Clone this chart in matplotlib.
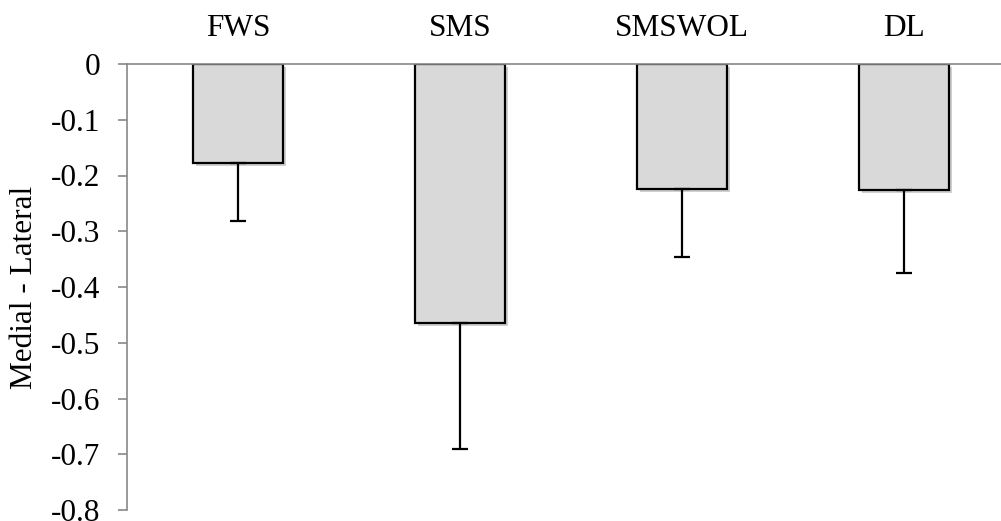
import matplotlib
matplotlib.use("Agg")
import matplotlib.pyplot as plt
import matplotlib.patheffects as pe

# values
groups = ["FWS", "SMS", "SMSWOL", "DL"]
means = [-0.178, -0.465, -0.224, -0.226]
errors = [0.103, 0.226, 0.123, 0.148]
y_ticks = [0, -0.1, -0.2, -0.3, -0.4, -0.5, -0.6, -0.7, -0.8]

plt.rcParams['font.family'] = ['Liberation Serif', 'DejaVu Serif']
fs = 22.5

fig = plt.figure(figsize=(10.01, 5.21), dpi=100)
ax = fig.add_axes([127 / 1001, 11 / 521, 1 - 127 / 1001, (510 - 64) / 521])

x = range(len(groups))
bars = ax.bar(x, means, width=0.405, color='#d9d9d9', edgecolor='black',
              linewidth=1.6, zorder=2)
for b in bars:
    b.set_path_effects([pe.SimplePatchShadow(offset=(2, -2), alpha=0.25), pe.Normal()])

# error bars only point downward (away from zero)
ax.errorbar(x, means, yerr=[errors, [0] * len(errors)], fmt='none',
            ecolor='black', elinewidth=1.6, capsize=5.5, capthick=1.6, zorder=3)

ax.set_xlim(-0.5, 3.5 - 14 / 222)
ax.set_ylim(-0.8, 0)
ax.set_yticks(y_ticks)
ax.set_yticklabels(['0' if v == 0 else f'{v:.1f}' for v in y_ticks], fontsize=fs)

ax.xaxis.tick_top()
ax.set_xticks(list(x))
ax.set_xticklabels(groups, fontsize=fs)
ax.tick_params(axis='x', length=0, pad=15)
ax.tick_params(axis='y', direction='out', length=6.5, width=1.2, colors='#888888',
               labelcolor='black', pad=13)

ax.spines['right'].set_visible(False)
ax.spines['bottom'].set_visible(False)
ax.spines['top'].set_color('#888888')
ax.spines['left'].set_color('#888888')
ax.spines['top'].set_linewidth(1.2)
ax.spines['left'].set_linewidth(1.2)

ax.set_ylabel('Medial - Lateral', fontsize=fs, labelpad=8)

fig.savefig('out.png', dpi=100)
